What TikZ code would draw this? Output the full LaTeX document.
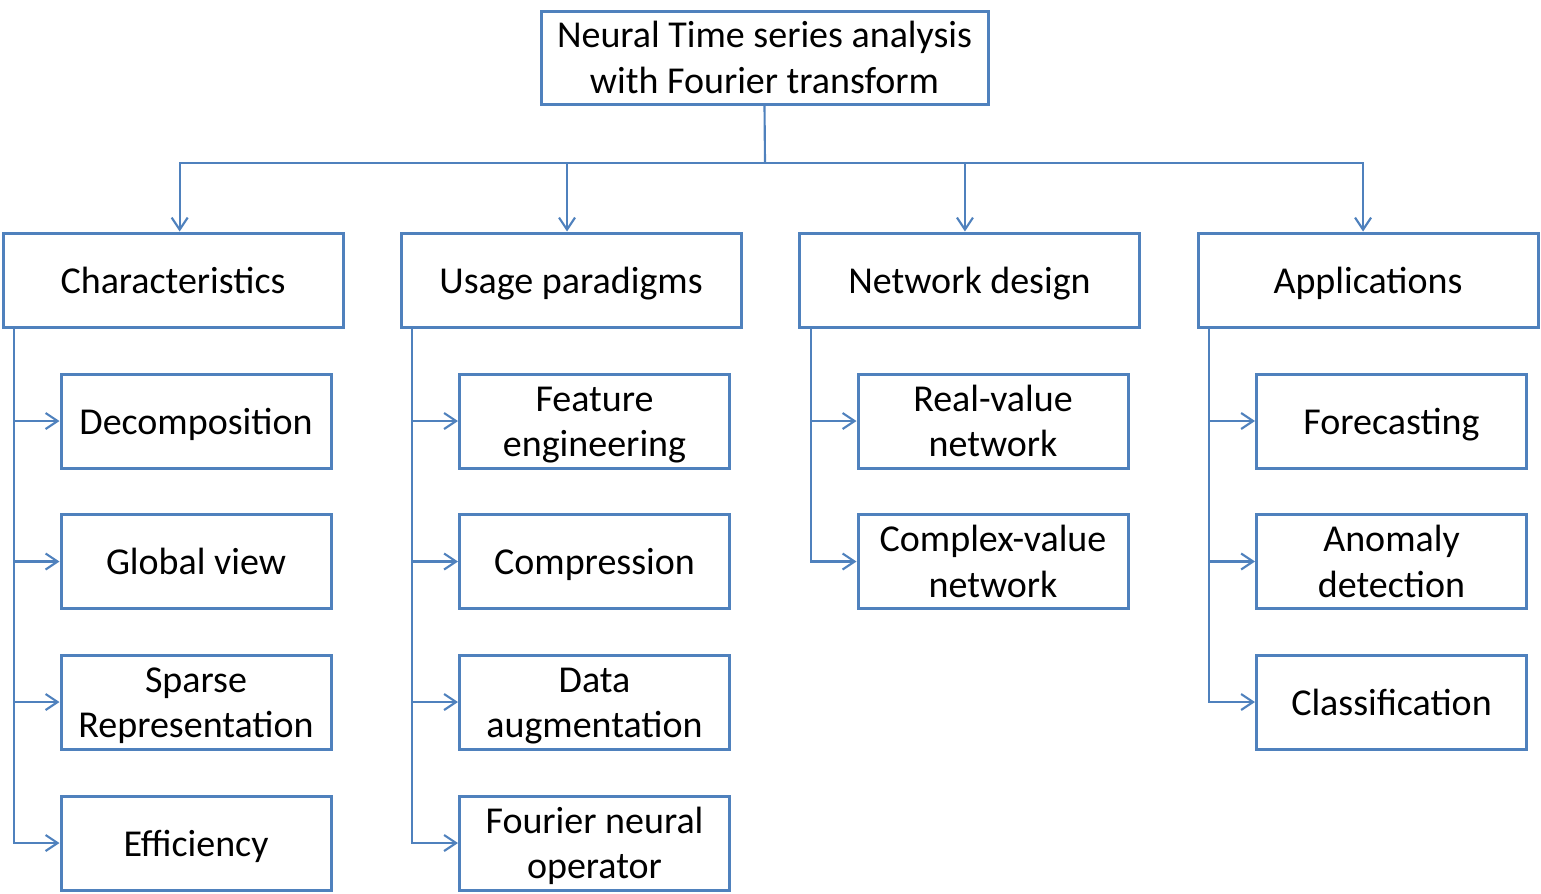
\documentclass[tikz,border=0pt]{standalone}
\usepackage{fontspec}
\setmainfont{Carlito}
\usepackage{xcolor}
\usepackage{tikz}
\usetikzlibrary{calc, arrows.meta}
\definecolor{boxblue}{RGB}{79,129,189}
\newcommand{\boxtext}[1]{\raisebox{-3pt}[\height][\depth]{\begin{tabular}{@{}c@{}}#1\end{tabular}}}

\begin{document}
\begin{tikzpicture}[x=0.75pt,y=0.75pt,yscale=-1,xscale=1,
    every node/.style={font=\fontsize{28.5}{33.8}\selectfont},
    box/.style={draw=boxblue, line width=2.25pt, inner sep=0pt},
    topbox/.style={box, minimum width=335.25pt, minimum height=69.75pt},
    catbox/.style={box, minimum width=255pt, minimum height=70.5pt},
    leafbox/.style={box, minimum width=202.5pt, minimum height=70.5pt},
    link/.style={draw=boxblue, line width=1.6pt},
    arr/.style={link, -{Straight Barb[length=9pt,width=12pt,line width=1.6pt]}}]
  \useasboundingbox (0,0) rectangle (1541,893);
  % root and the four branches
  \node[topbox] (root) at (764.5,57.5) {\boxtext{Neural Time series analysis\\with Fourier transform}};
  \node[catbox] (char) at (173,280) {\boxtext{Characteristics}};
  \node[catbox] (usage) at (571,280) {\boxtext{Usage paradigms}};
  \node[catbox] (net) at (969.5,280) {\boxtext{Network design}};
  \node[catbox] (apps) at (1368,280) {\boxtext{Applications}};
  \coordinate (bus) at (765,163);
  \draw[link] (root.south) -- (bus);
  \draw[arr] (bus) -| ([xshift=5pt]char.north);
  \draw[arr] (bus) -| ([xshift=-3pt]usage.north);
  \draw[arr] (bus) -| ([xshift=-3.4pt]net.north);
  \draw[arr] (bus) -| ([xshift=-3.7pt]apps.north);
  % leaves
  \node[leafbox] (c1) at (196,421) {\boxtext{Decomposition}};
  \node[leafbox] (c2) at (196,561.5) {\boxtext{Global view}};
  \node[leafbox] (c3) at (196,702) {\boxtext{Sparse\\Representation}};
  \node[leafbox] (c4) at (196,843) {\boxtext{Efficiency}};
  \node[leafbox] (u1) at (594.5,421) {\boxtext{Feature\\engineering}};
  \node[leafbox] (u2) at (594.5,561.5) {\boxtext{Compression}};
  \node[leafbox] (u3) at (594.5,702) {\boxtext{Data\\augmentation}};
  \node[leafbox] (u4) at (594.5,843) {\boxtext{Fourier neural\\operator}};
  \node[leafbox] (n1) at (993,421) {\boxtext{Real-value\\network}};
  \node[leafbox] (n2) at (993,561.5) {\boxtext{Complex-value\\network}};
  \node[leafbox] (a1) at (1391.5,421) {\boxtext{Forecasting}};
  \node[leafbox] (a2) at (1391.5,561.5) {\boxtext{Anomaly\\detection}};
  \node[leafbox] (a3) at (1391.5,702) {\boxtext{Classification}};
  \draw[arr] ([xshift=9.5pt]char.south west) |- (c1.west);
  \draw[arr] ([xshift=9.5pt]char.south west) |- (c2.west);
  \draw[arr] ([xshift=9.5pt]char.south west) |- (c3.west);
  \draw[arr] ([xshift=9.5pt]char.south west) |- (c4.west);
  \draw[arr] ([xshift=9.5pt]usage.south west) |- (u1.west);
  \draw[arr] ([xshift=9.5pt]usage.south west) |- (u2.west);
  \draw[arr] ([xshift=9.5pt]usage.south west) |- (u3.west);
  \draw[arr] ([xshift=9.5pt]usage.south west) |- (u4.west);
  \draw[arr] ([xshift=9.5pt]net.south west) |- (n1.west);
  \draw[arr] ([xshift=9.5pt]net.south west) |- (n2.west);
  \draw[arr] ([xshift=9.5pt]apps.south west) |- (a1.west);
  \draw[arr] ([xshift=9.5pt]apps.south west) |- (a2.west);
  \draw[arr] ([xshift=9.5pt]apps.south west) |- (a3.west);
\end{tikzpicture}
\end{document}
